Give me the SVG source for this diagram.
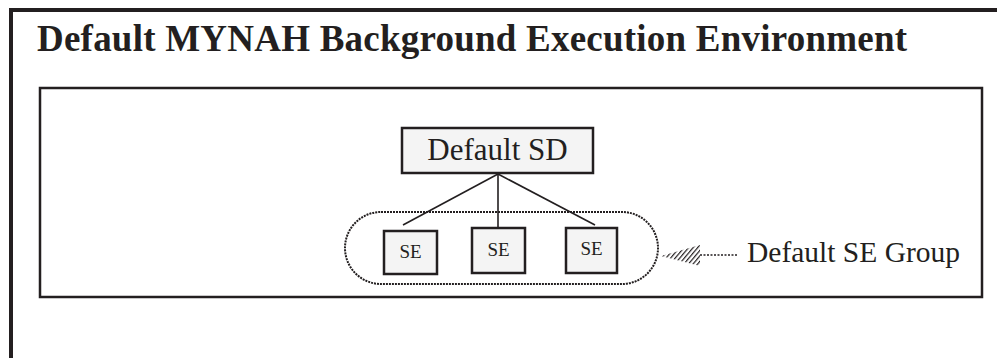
<svg xmlns="http://www.w3.org/2000/svg" width="997" height="358" viewBox="0 0 997 358">
<defs>
<style>
.frame{fill:none;stroke:#231f20}
.box{fill:#f4f4f4;stroke:#231f20;stroke-width:2.5}
.txt{font-family:"Liberation Serif","Times New Roman",serif;fill:#231f20}
.conn{stroke:#231f20;stroke-width:1.6;fill:none}
</style>
<pattern id="hatch" width="3.5" height="3.5" patternUnits="userSpaceOnUse" patternTransform="rotate(40)">
<rect width="3.5" height="3.5" fill="#fff"/>
<line x1="0" y1="0" x2="0" y2="3.5" stroke="#231f20" stroke-width="2.4"/>
</pattern>
</defs>
<rect width="997" height="358" fill="#fff"/>
<path class="frame" d="M11,358 V10 H997" stroke-width="4"/>
<text class="txt" x="37" y="51" font-size="37" font-weight="bold" textLength="870" lengthAdjust="spacing">Default MYNAH Background Execution Environment</text>
<rect class="frame" x="40" y="88" width="942" height="209" stroke-width="2.5"/>
<g id="group">
<rect x="345" y="212" width="313" height="72" rx="36" ry="36" fill="none" stroke="#231f20" stroke-width="2" stroke-dasharray="2 1"/>
</g>
<g id="connectors">
<line class="conn" x1="498" y1="174" x2="403" y2="225"/>
<line class="conn" x1="498" y1="174" x2="498" y2="228"/>
<line class="conn" x1="498" y1="174" x2="595" y2="225"/>
<line x1="700" y1="255" x2="737" y2="255" stroke="#231f20" stroke-width="1.6" stroke-dasharray="2 1.5"/>
<polygon points="661,256 700,245 700,266" fill="url(#hatch)"/>
</g>
<g id="sd">
<rect class="box" x="402" y="128" width="191" height="45"/>
<text class="txt" x="497.5" y="160" font-size="31" text-anchor="middle">Default SD</text>
</g>
<g id="se1">
<rect class="box" x="384" y="231" width="53" height="43"/>
<text class="txt" x="410.5" y="258" font-size="19" text-anchor="middle">SE</text>
</g>
<g id="se2">
<rect class="box" x="472" y="228" width="53" height="45"/>
<text class="txt" x="498.5" y="256" font-size="19" text-anchor="middle">SE</text>
</g>
<g id="se3">
<rect class="box" x="566" y="228" width="51" height="45"/>
<text class="txt" x="591.5" y="255" font-size="19" text-anchor="middle">SE</text>
</g>
<g id="label">
<text class="txt" x="747" y="262" font-size="29.5">Default SE Group</text>
</g>
</svg>
